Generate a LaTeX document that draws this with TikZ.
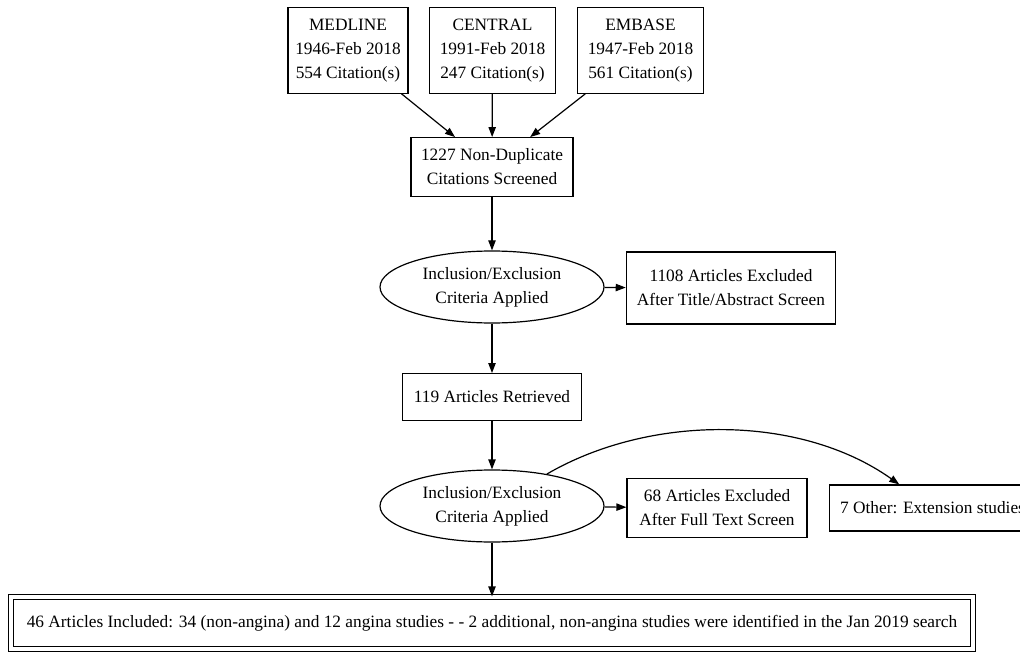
\documentclass[tikz,border=0pt]{standalone}
\usepackage{fontspec}
\setmainfont{Liberation Serif}
\usetikzlibrary{arrows.meta}
\usetikzlibrary{shapes.geometric}
\tikzset{
  box/.style={draw,line width=0.9pt,align=center,inner sep=0pt},
  oval/.style={draw,ellipse,line width=0.9pt,align=center,inner sep=0pt,minimum width=168pt,minimum height=54pt},
  arr/.style={-{Triangle[length=7.5pt,width=5.5pt]},line width=0.9pt},
}

\begin{document}
\begin{tikzpicture}[x=0.75pt,y=-0.75pt,font=\fontsize{13}{18}\selectfont]
\useasboundingbox (0,0) rectangle (1020,652);
        \node[box,minimum width=90pt,minimum height=64pt] (A) at (348,50.5) {MEDLINE\\1946-Feb 2018\\554 Citation(s)};
        \node[box,minimum width=94pt,minimum height=64pt] (B) at (492.5,50.5) {CENTRAL\\1991-Feb 2018\\247 Citation(s)};
        \node[box,minimum width=94pt,minimum height=64pt] (C) at (640.5,50.5) {EMBASE\\1947-Feb 2018\\561 Citation(s)};
        \node[box,minimum width=121.5pt,minimum height=44pt] (D) at (492,167) {1227 Non-Duplicate\\Citations Screened};
        \node[oval] (E) at (492,287) {Inclusion/Exclusion\\Criteria Applied};
        \node[box,minimum width=157pt,minimum height=54pt] (F) at (731,288) {1108 Articles Excluded\\After Title/Abstract Screen};
        \node[box,minimum width=134pt,minimum height=35pt] (G) at (492,397) {119 Articles Retrieved};
        \node[oval] (H) at (492,506) {Inclusion/Exclusion\\Criteria Applied};
        \node[box,minimum width=135pt,minimum height=44pt] (I) at (717,508) {68 Articles Excluded\\After Full Text Screen};
        \node[box,minimum width=154pt,minimum height=34.5pt] (J) at (932.5,508) {7 Other: Extension studies};
        \node[box,double,double distance=2.6pt,minimum width=721.5pt,minimum height=39pt] (K) at (492,623) {46 Articles Included: 34 (non-angina) and 12 angina studies - - 2 additional, non-angina studies were identified in the Jan 2019 search};
        \draw[arr] (A)--(D);
        \draw[arr] (B)--(D);
        \draw[arr] (C)--(D);
        \draw[arr] (D)--(E);
        \draw[arr] (E)--(F);
        \draw[arr] (E)--(G);
        \draw[arr] (G)--(H);
        \draw[arr] (H)--(I);
        \draw[arr] (H) .. controls (650,414) and (800,414) .. (J);
        \draw[arr] (H)--(K);
    \end{tikzpicture}
\end{document}
